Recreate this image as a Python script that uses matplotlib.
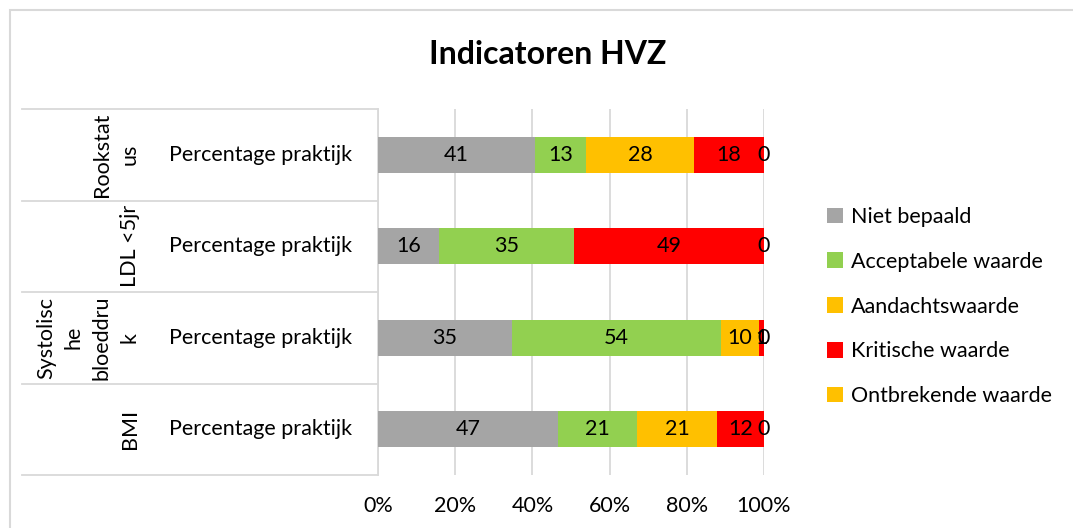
import numpy as np
import matplotlib.pyplot as plt
import matplotlib.transforms as mtransforms
from matplotlib.patches import Rectangle

plt.rcParams['font.family'] = ['Lato', 'DejaVu Sans']

# ========== DATA ========== #
# bottom-to-top order
groups = ["BMI", "Systolisc\nhe\nbloeddru\nk", "LDL <5jr", "Rookstat\nus"]
inner_label = "Percentage praktijk"
series = ["Niet bepaald", "Acceptabele waarde", "Aandachtswaarde",
          "Kritische waarde", "Ontbrekende waarde"]
colors = ["#A5A5A5", "#92D050", "#FFC000", "#FF0000", "#FFC000"]

niet_bepaald = [46.6, 34.7, 15.8, 40.7]
acceptabel = [20.6, 54.2, 35.0, 13.2]
aandacht = [20.6, 9.8, np.nan, 28.0]
kritisch = [12.2, 1.3, 49.2, 18.1]
ontbrekend = [0, 0, 0, 0]

values = np.array([niet_bepaald, acceptabel, aandacht, kritisch, ontbrekend], dtype=float)

# ========== FIGURE ========== #
W, H = 1073, 528
fs = 15.5
fig = plt.figure(figsize=(W / 100, H / 100), dpi=100)
ax = fig.add_axes([378 / W, 1 - 475 / H, (764 - 378) / W, (475 - 109) / H])

grid_col = "#D9D9D9"
y = np.arange(len(groups))
left = np.zeros(len(groups))
handles = []
for name, vals, col in zip(series, values, colors):
    v = np.nan_to_num(vals)
    h = ax.barh(y, v, left=left, height=0.39, color=col, label=name, zorder=3)
    handles.append(h)
    for yi, (l, val, raw) in enumerate(zip(left, v, vals)):
        if np.isnan(raw):
            continue
        ax.text(l + val / 2, yi, f"{val:.0f}", ha="center", va="center",
                fontsize=fs, color="black", zorder=4)
    left = left + v

ax.set_xlim(0, 100)
ax.set_ylim(-0.5, len(groups) - 0.5)
ax.set_xticks(np.arange(0, 101, 20))
ax.set_xticklabels([f"{t}%" for t in range(0, 101, 20)], fontsize=fs)
ax.tick_params(axis="x", length=0, pad=15)
ax.set_yticks([])
ax.grid(axis="x", color=grid_col, linewidth=1.3, zorder=0)
for s in ["top", "right", "bottom"]:
    ax.spines[s].set_visible(False)
ax.spines["left"].set_color(grid_col)
ax.spines["left"].set_linewidth(1.3)

# category table on the left
trans = mtransforms.blended_transform_factory(fig.transFigure, ax.transData)
for b in np.arange(-0.5, len(groups), 1.0):
    ax.plot([22 / W, 378 / W], [b, b], transform=trans, color=grid_col,
            linewidth=1.3, clip_on=False)
for yi, g in enumerate(groups):
    ax.text(140 / W, yi, g, transform=trans, rotation=90, ha="right", va="center",
            multialignment="center", fontsize=fs, linespacing=1.5)
    ax.text(261 / W, yi, inner_label, transform=trans, ha="center", va="center",
            fontsize=fs)

fig.text(548 / W, 1 - 55 / H, "Indicatoren HVZ", ha="center", va="center",
         fontsize=23, fontweight="bold")

fig.legend(handles=handles, labels=series, loc="upper left",
           bbox_to_anchor=(827 / W, 1 - 207 / H), frameon=False, fontsize=fs,
           handlelength=0.75, handleheight=0.75, handletextpad=0.35, labelspacing=1.15,
           borderaxespad=0, borderpad=0)

fig.patches.append(Rectangle((10 / W, -0.1), 1.2, 1 - 10 / H + 0.1,
                             transform=fig.transFigure, fill=False,
                             edgecolor=grid_col, linewidth=1.5))

fig.savefig("out.png", dpi=100)
